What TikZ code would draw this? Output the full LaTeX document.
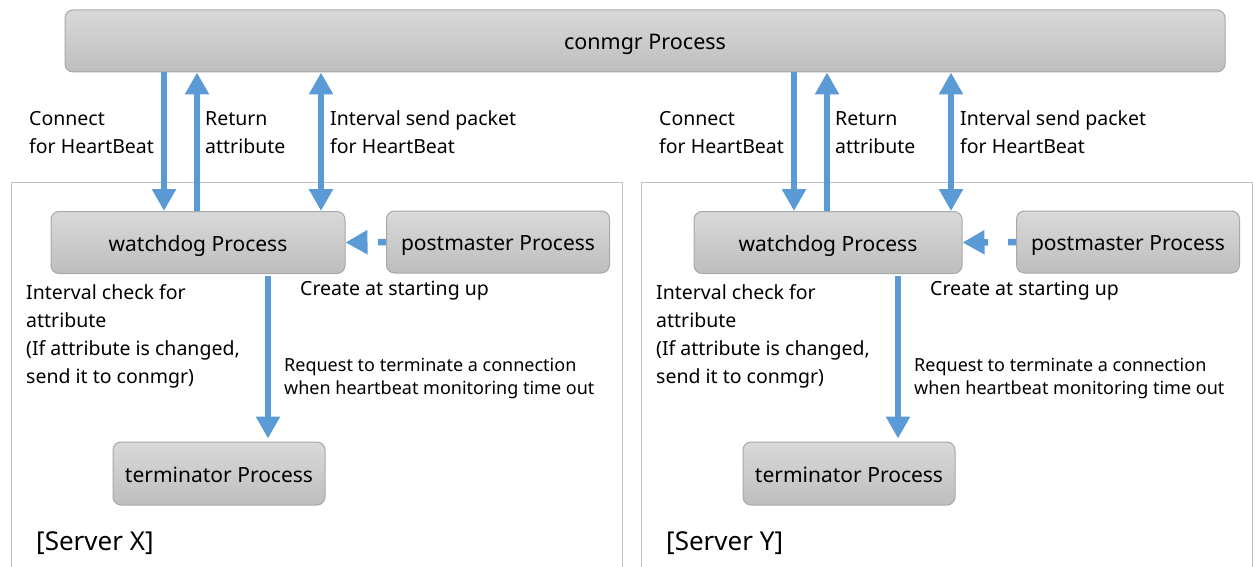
\documentclass[tikz,border=0pt]{standalone}
\usepackage{fontspec}
\setmainfont{Noto Sans}
\usetikzlibrary{arrows.meta}
\definecolor{flowblue}{HTML}{5B9BD5}
\definecolor{boxtop}{HTML}{D9D9D9}
\definecolor{boxbot}{HTML}{BEBEBE}
\definecolor{boxline}{HTML}{A8A8A8}
\definecolor{frameline}{HTML}{C0C0C0}
\tikzset{
  procbox/.style = {
    draw=boxline, line width=1pt, rounded corners=8pt,
    top color=boxtop, bottom color=boxbot, inner sep=0pt,
    text height=21pt, text depth=4pt,
    font=\fontsize{21}{25}\selectfont
  },
  flow/.style = {draw=flowblue, line width=6.5pt},
  note/.style = {align=left, inner sep=0pt, anchor=north west,
    font=\fontsize{19.5}{28}\selectfont},
  smallnote/.style = {note, font=\fontsize{18}{23}\selectfont}
}
\tikzset{>={Triangle[width=23pt,length=22pt]}}

\begin{document}
\begin{tikzpicture}[x=1pt,y=-1pt]
  \useasboundingbox (0,0) rectangle (1255,567);
  \node[procbox, minimum width=1160pt, minimum height=62pt,
    font=\fontsize{21.5}{26}\selectfont] (conmgr) at (645,41) {conmgr Process};
  \foreach \dx/\wdw/\srv in {0/294/X,630/268/Y} {
    \begin{scope}[xshift=\dx pt]
      \draw[frameline, line width=1pt] (11,567) -- (11,182) -- (622,182) -- (622,567);
      \node[procbox, minimum width=\wdw pt, minimum height=62pt] (wd\srv) at (198,242.5) {watchdog Process};
      \node[procbox, minimum width=223pt, minimum height=62pt] (pm\srv) at (498,242) {postmaster Process};
      \node[procbox, minimum width=212pt, minimum height=63pt] (term\srv) at (219,473.5) {terminator Process};
      % links to conmgr
      \draw[flow,->] ([xshift=-34pt]conmgr.south -| wd\srv.north) -- ([xshift=-34pt]wd\srv.north);
      \draw[flow,->] ([xshift=-1pt]wd\srv.north) -- ([xshift=-1pt]conmgr.south -| wd\srv.north);
      \draw[flow,<->] ([xshift=123pt]conmgr.south -| wd\srv.north) -- ([xshift=123pt]wd\srv.north);
      % inside the server
      \draw[flow,->,dash pattern=on 8pt off 20pt] (pm\srv.west) -- (wd\srv.east);
      \draw[flow,->,shorten <=2pt,shorten >=3pt] ([xshift=70pt]wd\srv.south) -- ([xshift=70pt]term\srv.north -| wd\srv.south);
      \node[note] (conn\srv) at (29,111) {Connect\\for HeartBeat};
      \node[note] (ret\srv) at (205,111) {Return\\attribute};
      \node[note] (intv\srv) at (330,110.5) {Interval send packet\\for HeartBeat};
      \node[note] (check\srv) at (26,284.5) {Interval check for\\attribute\\(If attribute is changed,\\send it to conmgr)};
      \node[note] (create\srv) at (300,281) {Create at starting up};
      \node[smallnote] (req\srv) at (284,358) {Request to terminate a connection\\when heartbeat monitoring time out};
      \node[anchor=base west, inner sep=0pt, font=\fontsize{26}{30}\selectfont] (name\srv) at (36,550) {[Server \srv]};
    \end{scope}
  }
\end{tikzpicture}
\end{document}
